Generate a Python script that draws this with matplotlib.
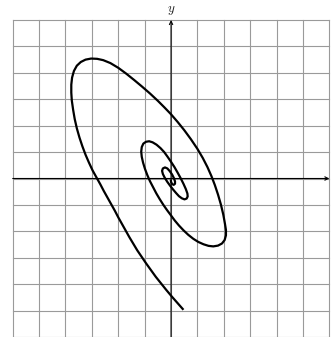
import matplotlib
matplotlib.use("Agg")
import matplotlib.pyplot as plt

plt.rcParams['mathtext.fontset'] = 'cm'

# Spiral trajectory points (data units)
curve_x = [0.47, 0.25, 0.03, -0.18, -0.38, -0.58, -0.76, -0.94, -1.11, -1.28,
           -1.43, -1.58, -1.72, -1.86, -2.00, -2.13, -2.27, -2.41, -2.55, -2.68,
           -2.82, -2.97, -3.11, -3.24, -3.36, -3.47, -3.57, -3.65, -3.71, -3.76,
           -3.78, -3.78, -3.75, -3.68, -3.57, -3.42, -3.24, -3.03, -2.80, -2.57,
           -2.30, -2.00, -1.70, -1.40, -1.10, -0.80, -0.50, -0.25, 0.00, 0.25,
           0.50, 0.75, 1.00, 1.20, 1.38, 1.53, 1.66, 1.78, 1.89, 1.98,
           2.04, 2.08, 2.08, 2.03, 1.93, 1.78, 1.60, 1.42, 1.23, 1.03,
           0.84, 0.65, 0.47, 0.30, 0.14, 0.00, -0.15, -0.29, -0.43, -0.56,
           -0.68, -0.80, -0.90, -0.99, -1.06, -1.11, -1.13, -1.11, -1.05, -0.95,
           -0.83, -0.70, -0.55, -0.40, -0.26, -0.13, 0.00, 0.13, 0.25, 0.37,
           0.47, 0.56, 0.62, 0.63, 0.59, 0.51, 0.41, 0.30, 0.19, 0.08,
           -0.03, -0.14, -0.24, -0.31, -0.34, -0.31, -0.23, -0.14, -0.05, 0.04,
           0.11, 0.15, 0.15, 0.10, 0.04, 0.00, -0.01]
curve_y = [-4.97, -4.72, -4.47, -4.22, -3.97, -3.72, -3.47, -3.22, -2.97, -2.72,
           -2.47, -2.22, -1.97, -1.72, -1.47, -1.22, -0.97, -0.72, -0.47, -0.22,
           0.03, 0.30, 0.60, 0.90, 1.22, 1.55, 1.90, 2.25, 2.60, 2.95,
           3.25, 3.55, 3.82, 4.07, 4.27, 4.41, 4.50, 4.54, 4.53, 4.48,
           4.37, 4.19, 3.97, 3.73, 3.48, 3.22, 2.94, 2.69, 2.43, 2.14,
           1.83, 1.49, 1.12, 0.78, 0.43, 0.09, -0.25, -0.61, -0.99, -1.37,
           -1.70, -1.95, -2.15, -2.33, -2.46, -2.54, -2.57, -2.55, -2.49, -2.40,
           -2.28, -2.13, -1.96, -1.78, -1.59, -1.40, -1.20, -1.00, -0.78, -0.56,
           -0.33, -0.10, 0.13, 0.37, 0.60, 0.82, 1.02, 1.19, 1.32, 1.39,
           1.41, 1.37, 1.28, 1.15, 1.00, 0.82, 0.63, 0.43, 0.22, 0.00,
           -0.20, -0.40, -0.57, -0.68, -0.76, -0.79, -0.75, -0.67, -0.55, -0.42,
           -0.28, -0.13, 0.03, 0.17, 0.29, 0.38, 0.42, 0.38, 0.28, 0.15,
           0.01, -0.11, -0.20, -0.24, -0.21, -0.13, -0.04]

grid_ticks = list(range(-6, 7))
axis_label = "$y$"

fig = plt.figure(figsize=(3.33, 3.37), dpi=100)
ax = fig.add_axes([12.7 / 333, 0.0, 316.7 / 333, 317 / 337])
ax.set_xlim(-6, 6)
ax.set_ylim(-6, 6)
ax.axis('off')

for t in grid_ticks:
    ax.plot([t, t], [-6, 6], color='#9a9a9a', lw=0.8, zorder=1, clip_on=False)
    ax.plot([-6, 6], [t, t], color='#9a9a9a', lw=0.8, zorder=1, clip_on=False)

ax.annotate('', xy=(6, 0), xytext=(-6, 0),
            arrowprops=dict(arrowstyle='->', lw=0.8, color='black',
                            shrinkA=0, shrinkB=0, mutation_scale=6), zorder=2)
ax.annotate('', xy=(0, 6), xytext=(0, -6),
            arrowprops=dict(arrowstyle='->', lw=0.8, color='black',
                            shrinkA=0, shrinkB=0, mutation_scale=6), zorder=2)

ax.text(0, 6.1, axis_label, ha='center', va='bottom', fontsize=9.5, color='#222222')

ax.plot(curve_x, curve_y, color='black', lw=1.6, zorder=3,
        solid_joinstyle='round', solid_capstyle='butt')

fig.savefig('out.png', dpi=100)
